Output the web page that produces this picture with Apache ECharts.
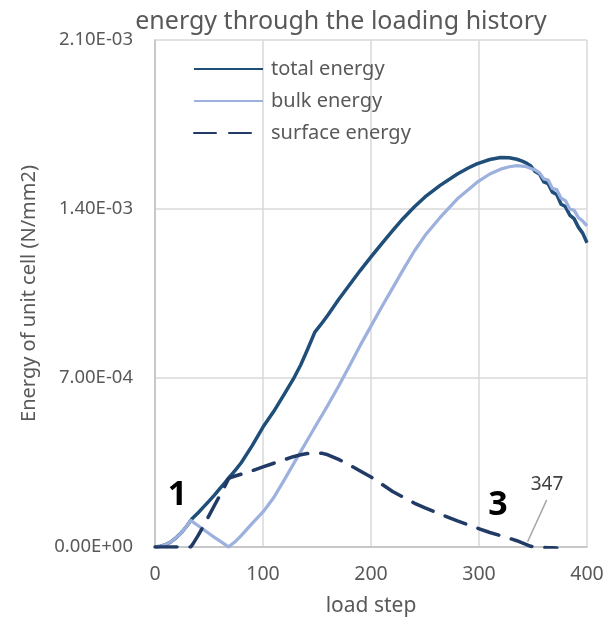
<!DOCTYPE html>
<html>
<head>
<meta charset="utf-8">
<script src="https://cdn.jsdelivr.net/npm/echarts@6/dist/echarts.min.js"></script>
<style>
  html, body { margin: 0; padding: 0; background: #ffffff; }
  #chart { width: 615px; height: 625px; }
</style>
</head>
<body>
<div id="chart"></div>
<script>
// Load steps shared by all three energy histories
const loadStep = [
  0, 5, 10, 15, 20, 25, 30, 33, 35, 40,
  45, 50, 55, 60, 65, 68, 70, 75, 80, 90,
  100, 110, 120, 128, 135, 141, 148, 155, 160, 170,
  180, 190, 200, 210, 220, 230, 240, 250, 264, 280,
  290, 298, 310, 320, 328, 335, 340, 344, 348, 352,
  356, 360, 364, 368, 372, 376, 380, 384, 388, 392,
  396, 400
];

// Energies in units of 1e-4 N/mm2
const totalEnergy = [
  0, 0.03, 0.1, 0.22, 0.4, 0.62, 0.9, 1.1, 1.2, 1.42,
  1.66, 1.9, 2.15, 2.42, 2.68, 2.85, 2.95, 3.22, 3.5, 4.2,
  4.97, 5.62, 6.35, 6.95, 7.55, 8.16, 8.9, 9.3, 9.6, 10.25,
  10.85, 11.45, 12.02, 12.57, 13.1, 13.62, 14.08, 14.5, 14.98, 15.45,
  15.7, 15.87, 16.05, 16.13, 16.12, 16.06, 15.98, 15.9, 15.78, 15.55,
  15.45, 15.12, 15.05, 14.7, 14.6, 14.2, 14.1, 13.75, 13.6, 13.25,
  13.0, 12.6
];

const bulkEnergy = [
  0, 0.03, 0.1, 0.22, 0.4, 0.62, 0.9, 1.1, 1.04, 0.88,
  0.72, 0.56, 0.4, 0.25, 0.1, 0, 0.07, 0.25, 0.48, 0.98,
  1.45, 2.05, 2.8, 3.42, 3.96, 4.42, 4.96, 5.49, 5.87, 6.66,
  7.5, 8.35, 9.15, 9.95, 10.72, 11.5, 12.25, 12.9, 13.65, 14.42,
  14.8, 15.1, 15.45, 15.65, 15.75, 15.8, 15.78, 15.75, 15.68, 15.62,
  15.5, 15.25, 15.2, 14.85, 14.8, 14.45, 14.35, 14.0, 13.95, 13.65,
  13.5, 13.3
];

const surfaceEnergy = [
  0, 0, 0, 0, 0, 0, 0, 0, 0.12, 0.48,
  0.88, 1.3, 1.72, 2.13, 2.55, 2.82, 2.88, 2.95, 3.02, 3.16,
  3.32, 3.47, 3.62, 3.74, 3.82, 3.87, 3.9, 3.88, 3.82, 3.63,
  3.4, 3.15, 2.9, 2.6, 2.3, 2.06, 1.82, 1.62, 1.36, 1.08,
  0.92, 0.79, 0.6, 0.47, 0.36, 0.26, 0.17, 0.1, 0.03, 0,
  -0.01, -0.02, -0.03, -0.03, -0.04, null, null, null, null, null,
  null, null
];

const UNIT = 1e-4;

// Axis settings
const xMin = 0, xMax = 400, xStep = 100;
const yMin = 0, yMax = 2.1e-3, yStep = 7e-4;

// Call-outs placed in data coordinates
const noteText = ['1', '3'];
const noteX = [20.8, 317.6];
const noteY = [2.13e-4, 1.74e-4];
const stepNote = '347';
const stepNoteAt = [363, 2.59e-4];
const stepLeaderFrom = [362.7, 1.95e-4];
const stepLeaderTo = [345, 0.22e-4];

const FONT = '"Noto Sans", sans-serif';
const TEXT_GREY = '#595959';

function toPairs(values) {
  return loadStep.map((x, i) => [x, values[i] == null ? null : values[i] * UNIT]);
}

function sciLabel(v) {
  if (Math.abs(v) < 1e-12) return '0.00E+00';
  const parts = v.toExponential(2).split('e');
  const n = parseInt(parts[1], 10);
  return parts[0] + 'E' + (n < 0 ? '-' : '+') + String(Math.abs(n)).padStart(2, '0');
}

const chart = echarts.init(document.getElementById('chart'), null, { renderer: 'canvas' });

const option = {
  animation: false,
  backgroundColor: '#ffffff',
  textStyle: { fontFamily: FONT },
  title: {
    text: 'energy through the loading history',
    left: 336,
    textAlign: 'center',
    top: 4,
    textStyle: { fontFamily: FONT, fontSize: 25, fontWeight: 'normal', color: TEXT_GREY }
  },
  grid: { left: 155, right: 28, top: 40, bottom: 78, containLabel: false },
  legend: {
    orient: 'vertical',
    left: 188,
    top: 54,
    padding: 5,
    itemWidth: 69,
    itemHeight: 14,
    itemGap: 12,
    itemStyle: { color: 'rgba(0,0,0,0)', borderWidth: 0, opacity: 0 },
    textStyle: { fontFamily: FONT, fontSize: 20, color: TEXT_GREY, lineHeight: 20, padding: [0, 0, 0, 3] },
    data: ['total energy', 'bulk energy', 'surface energy']
  },
  xAxis: {
    type: 'value',
    min: xMin, max: xMax, interval: xStep,
    name: 'load step',
    nameLocation: 'middle',
    nameGap: 49,
    nameTextStyle: { fontFamily: FONT, fontSize: 21, color: TEXT_GREY },
    axisLine: { show: true, lineStyle: { color: '#BFBFBF', width: 1.5 } },
    axisTick: { show: false },
    axisLabel: { fontFamily: FONT, fontSize: 19.5, color: TEXT_GREY, margin: 17 },
    splitLine: { show: true, lineStyle: { color: '#D9D9D9', width: 1.5 } }
  },
  yAxis: {
    type: 'value',
    min: yMin, max: yMax, interval: yStep,
    name: 'Energy of unit cell (N/mm2)',
    nameLocation: 'middle',
    nameGap: 116,
    nameTextStyle: { fontFamily: FONT, fontSize: 20, color: TEXT_GREY },
    axisLine: { show: true, lineStyle: { color: '#BFBFBF', width: 1.5 } },
    axisTick: { show: false },
    axisLabel: { fontFamily: FONT, fontSize: 18.5, color: TEXT_GREY, margin: 22, formatter: sciLabel },
    splitLine: { show: true, lineStyle: { color: '#D9D9D9', width: 1.5 } }
  },
  series: [
    {
      name: 'total energy',
      type: 'line',
      symbol: 'none',
      clip: true,
      data: toPairs(totalEnergy),
      lineStyle: { color: '#1F4E79', width: 3.5, join: 'round' },
      itemStyle: { color: '#1F4E79' },
      z: 2
    },
    {
      name: 'bulk energy',
      type: 'line',
      symbol: 'none',
      clip: true,
      data: toPairs(bulkEnergy),
      lineStyle: { color: '#9DB1DE', width: 3.25, join: 'round' },
      itemStyle: { color: '#9DB1DE' },
      z: 3
    },
    {
      name: 'surface energy',
      type: 'line',
      symbol: 'none',
      clip: true,
      connectNulls: false,
      data: toPairs(surfaceEnergy),
      lineStyle: { color: '#223A66', width: 3.5, type: [22, 13], cap: 'round', join: 'round' },
      itemStyle: { color: '#223A66' },
      z: 4
    }
  ]
};

chart.setOption(option);

// Call-out texts and the leader line for the step label
const px = (p) => chart.convertToPixel({ gridIndex: 0 }, p);
const elements = noteText.map((t, i) => {
  const p = px([noteX[i], noteY[i]]);
  return {
    type: 'text',
    x: p[0], y: p[1],
    style: { text: t, fontFamily: FONT, fontSize: 34, fontWeight: 'bold', fill: '#000000', align: 'center', verticalAlign: 'middle' },
    z: 10
  };
});
const a = px(stepLeaderFrom), b = px(stepLeaderTo), c = px(stepNoteAt);
elements.push({
  type: 'line',
  shape: { x1: a[0], y1: a[1], x2: b[0], y2: b[1] },
  style: { stroke: '#A6A6A6', lineWidth: 1.5 },
  z: 10
});
elements.push({
  type: 'text',
  x: c[0], y: c[1],
  style: { text: stepNote, fontFamily: FONT, fontSize: 19, fill: '#404040', align: 'center', verticalAlign: 'middle' },
  z: 10
});
chart.setOption({ graphic: { elements: elements } });
</script>
</body>
</html>
